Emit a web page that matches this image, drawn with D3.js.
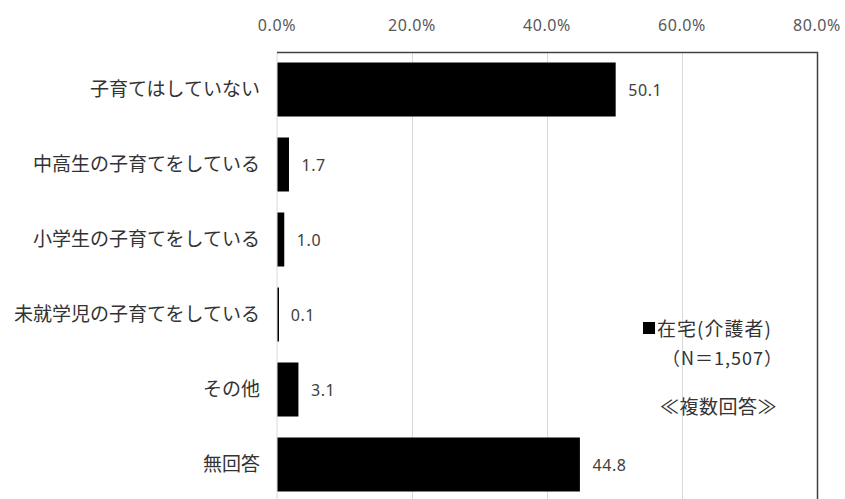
<!DOCTYPE html>
<head>
<meta charset="utf-8">
<script src="https://d3js.org/d3.v7.min.js"></script>
<style>
body { margin: 0; background: #fff; font-family: "Noto Sans CJK JP", "Noto Sans", sans-serif; }
</style>
</head>
<body>
<svg></svg>
<script>
var categories = ["子育てはしていない", "中高生の子育てをしている", "小学生の子育てをしている", "未就学児の子育てをしている", "その他", "無回答"];
var values = [50.1, 1.7, 1.0, 0.1, 3.1, 44.8];
var ticks = [0, 20, 40, 60, 80];
var legendLines = ["在宅(介護者)", "（N＝1,507）", "≪複数回答≫"];

var width = 845, height = 499;
var plotLeft = 277, plotRight = 817, plotTop = 52;

var svg = d3.select("svg").attr("width", width).attr("height", height);

var x = d3.scaleLinear().domain([0, 80]).range([plotLeft, plotRight]);
var y = d3.scaleBand().domain(categories).range([52, 502]).paddingInner(0.28).paddingOuter(0.14);

// gridlines
svg.selectAll(".grid").data(ticks.slice(1, -1)).enter().append("line")
    .attr("x1", function (d) { return x(d) + 0.5; }).attr("x2", function (d) { return x(d) + 0.5; })
    .attr("y1", plotTop).attr("y2", height)
    .style("stroke", "#d9d9d9").style("stroke-width", 1);

// left axis line
svg.append("line").attr("x1", plotLeft).attr("x2", plotLeft).attr("y1", plotTop).attr("y2", height)
    .style("stroke", "#d9d9d9");

// frame top & right
svg.append("path")
    .attr("d", "M" + plotLeft + "," + (plotTop + 0.5) + "H" + (plotRight + 0.5) + "V" + height)
    .style("fill", "none").style("stroke", "#404040").style("stroke-width", 1.5);

// top tick labels
svg.selectAll(".tick").data(ticks).enter().append("text")
    .attr("x", function (d) { return x(d); })
    .attr("y", 31)
    .attr("text-anchor", "middle")
    .style("font-family", "'Noto Sans', sans-serif")
    .style("font-size", "16px")
    .style("letter-spacing", "0.6px")
    .style("fill", "#595959")
    .text(function (d) { return d.toFixed(1) + "%"; });

// bars
svg.selectAll(".bar").data(values).enter().append("rect")
    .attr("x", x(0) + 0.5)
    .attr("y", function (d, i) { return y(categories[i]); })
    .attr("width", function (d) { return Math.max(1.5, x(d) - x(0)); })
    .attr("height", y.bandwidth())
    .style("fill", "#000");

// value labels
svg.selectAll(".val").data(values).enter().append("text")
    .attr("x", function (d) { return x(d) + 13; })
    .attr("y", function (d, i) { return y(categories[i]) + y.bandwidth() / 2 + 6; })
    .style("font-family", "'Noto Sans', sans-serif")
    .style("font-size", "16px")
    .style("letter-spacing", "0.6px")
    .style("fill", "#404040")
    .text(function (d) { return d.toFixed(1); });

// category labels
svg.selectAll(".cat").data(categories).enter().append("text")
    .attr("x", 260)
    .attr("y", function (d) { return y(d) + y.bandwidth() / 2 + 6; })
    .attr("text-anchor", "end")
    .style("font-size", "19px")
    .style("fill", "#333")
    .text(function (d) { return d; });

// legend
svg.append("rect").attr("x", 643).attr("y", 322).attr("width", 12).attr("height", 12).style("fill", "#000");
svg.append("text").attr("x", 657).attr("y", 336).style("font-size", "19px").style("letter-spacing", "1px").style("fill", "#333").text(legendLines[0]);
svg.append("text").attr("x", 662).attr("y", 365).style("font-size", "18px").style("letter-spacing", "1px").style("fill", "#333").text(legendLines[1]);
svg.append("text").attr("x", 660).attr("y", 414).style("font-size", "19px").style("letter-spacing", "0.5px").style("fill", "#333").text(legendLines[2]);
</script>
</body>
